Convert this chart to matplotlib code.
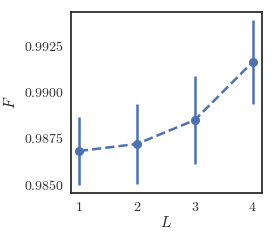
import matplotlib
matplotlib.use('Agg')
import matplotlib.pyplot as plt
import seaborn as sns
from matplotlib.ticker import FuncFormatter

sns.set_style('white')
plt.rcParams['font.family'] = 'serif'
plt.rcParams['mathtext.fontset'] = 'cm'

# data
L = [1, 2, 3, 4]
F = [0.98679, 0.98717, 0.98846, 0.99159]
F_low = [0.98496, 0.98500, 0.98609, 0.98931]
F_high = [0.98861, 0.98934, 0.99083, 0.99385]

err = [[f - lo for f, lo in zip(F, F_low)], [hi - f for f, hi in zip(F, F_high)]]

fig = plt.figure(figsize=(2.74, 2.4), dpi=100)
ax = fig.add_axes([0.258, 0.196, 0.697, 0.754])

ax.errorbar(L, F, yerr=err, fmt='o--', color='#4c72b0', lw=1.8,
            elinewidth=1.8, markersize=5.5, capsize=0)

ax.set_xlim(0.857, 4.155)
ax.set_ylim(0.98453, 0.99428)
ax.set_xticks(L)
ax.set_yticks([0.9850, 0.9875, 0.9900, 0.9925])
ax.xaxis.set_major_formatter(FuncFormatter(lambda v, p: f'${v:.0f}$'))
ax.yaxis.set_major_formatter(FuncFormatter(lambda v, p: f'${v:.4f}$'))
ax.tick_params(labelsize=10, colors='#333333', length=0, pad=5)
ax.set_xlabel('$L$', fontsize=11, labelpad=1)
ax.set_ylabel('$F$', fontsize=11, labelpad=4)
for s in ax.spines.values():
    s.set_color('#262626')
    s.set_linewidth(1.25)

fig.savefig('out.png', dpi=100)
